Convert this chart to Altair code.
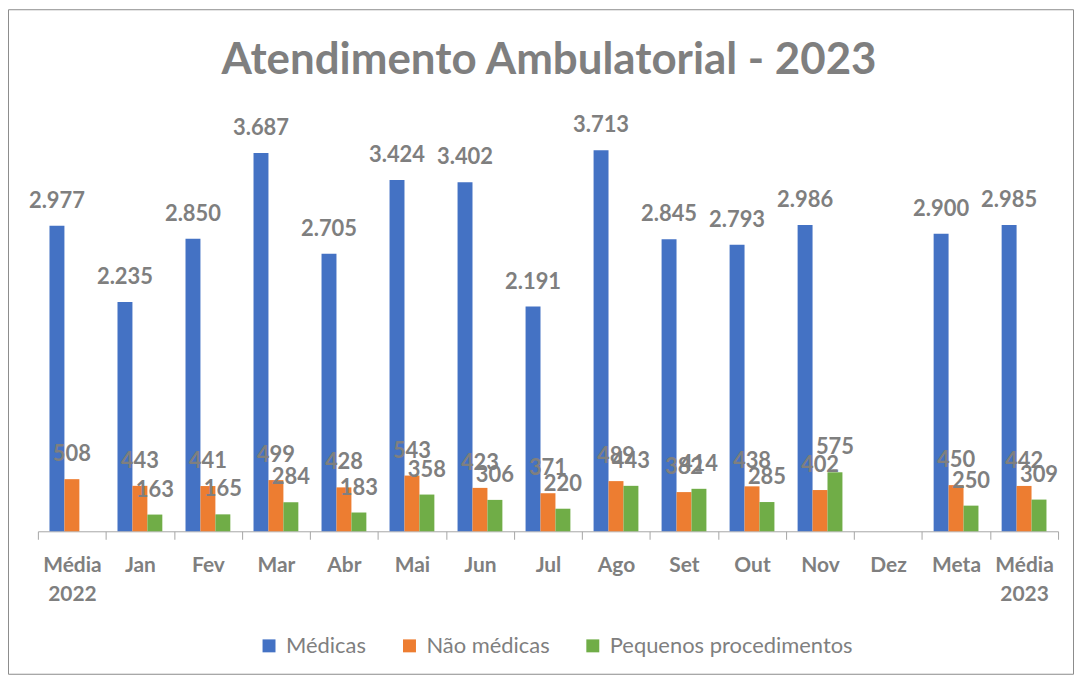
import altair as alt
import pandas as pd

categories = ["Média 2022", "Jan", "Fev", "Mar", "Abr", "Mai", "Jun", "Jul",
              "Ago", "Set", "Out", "Nov", "Dez", "Meta", "Média 2023"]
medicas = [2977, 2235, 2850, 3687, 2705, 3424, 3402, 2191, 3713, 2845, 2793, 2986, None, 2900, 2985]
nao_medicas = [508, 443, 441, 499, 428, 543, 423, 371, 489, 382, 438, 402, None, 450, 442]
pequenos = [None, 163, 165, 284, 183, 358, 306, 220, 443, 414, 285, 575, None, 250, 309]
series = ["Médicas", "Não médicas", "Pequenos procedimentos"]
colors = ["#4472C4", "#ED7D31", "#70AD47"]
title_text = "Atendimento Ambulatorial - 2023"

rows = []
for s, vals in zip(series, [medicas, nao_medicas, pequenos]):
    for c, v in zip(categories, vals):
        if v is not None:
            rows.append({"Mês": c, "Série": s, "Valor": v})
df = pd.DataFrame(rows)

GRAY = "#7F7F7F"
FONT = "Lato"
W, H = 1024, 412

x_enc = alt.X("Mês:N", sort=categories,
              scale=alt.Scale(domain=categories, paddingInner=0, paddingOuter=0),
              axis=alt.Axis(title=None, labelAngle=0, labelFont=FONT, labelFontSize=21,
                            labelFontWeight="bold", labelColor=GRAY, labelPadding=15,
                            labelLineHeight=29, labelExpr="split(datum.label, ' ')",
                            domainColor="#A6A6A6", tickColor="#A6A6A6", tickSize=8,
                            tickBand="extent", grid=False, labelBaseline="top"))
xo_enc = alt.XOffset("Série:N", sort=series,
                     scale=alt.Scale(domain=series, paddingInner=0, paddingOuter=0.776))
y_enc = alt.Y("Valor:Q", scale=alt.Scale(domain=[0, 4000]), axis=None)

base = alt.Chart(df)

bars = base.mark_bar(size=15).encode(
    x=x_enc, xOffset=xo_enc, y=y_enc,
    color=alt.Color("Série:N", sort=series,
                    scale=alt.Scale(domain=series, range=colors),
                    legend=alt.Legend(title=None, orient="none", direction="horizontal",
                                      legendX=221, legendY=516, symbolType="square",
                                      symbolSize=169, symbolStrokeWidth=0,
                                      labelFont=FONT, labelFontSize=22, labelColor=GRAY,
                                      labelOffset=6, columnPadding=32, padding=0,
                                      labelLimit=0))
)

labels = base.transform_calculate(
    lbl="replace(format(datum.Valor, ','), ',', '.')"
).mark_text(font=FONT, fontSize=22, fontWeight="bold", color=GRAY,
            baseline="alphabetic", align="center", dy=-18).encode(
    x=x_enc, xOffset=xo_enc, y=y_enc, text="lbl:N"
)

title = alt.Chart(pd.DataFrame({"t": [title_text]})).mark_text(
    font=FONT, fontSize=44, fontWeight="bold", color=GRAY,
    baseline="alphabetic", align="center"
).encode(x=alt.value(513), y=alt.value(-47), text="t:N")

frame = alt.Chart(pd.DataFrame({"f": [1]})).mark_rect(
    fill=None, stroke="#8C8C8C", strokeWidth=1
).encode(x=alt.value(-29.5), x2=alt.value(1039.5), y=alt.value(-111.5), y2=alt.value(555.5))

chart = alt.layer(frame, bars, labels, title).properties(
    width=W, height=H,
    background="white",
    autosize=alt.AutoSizeParams(type="none"),
    padding={"left": 30, "top": 112, "right": 17, "bottom": 145},
).configure_view(stroke=None)

chart.save("out.html", embed_options={"renderer": "svg", "actions": False})
